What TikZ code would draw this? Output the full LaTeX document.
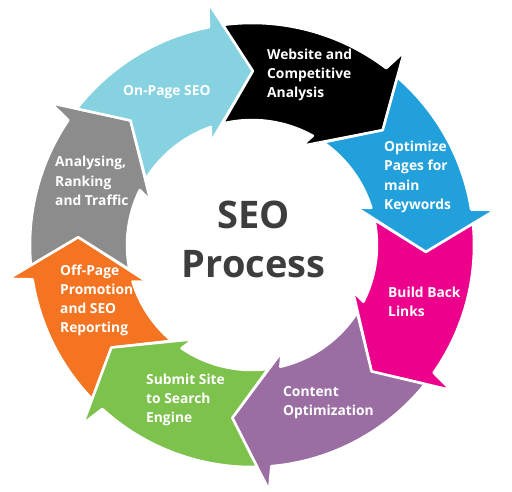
\documentclass[tikz,border=0pt]{standalone}
\usepackage{fontspec}
\setmainfont{Open Sans}
\definecolor{cOrange}{RGB}{244,116,33}
\definecolor{cGray}{RGB}{140,140,140}
\definecolor{cLight}{RGB}{134,210,225}
\definecolor{cBlack}{RGB}{0,0,0}
\definecolor{cBlue}{RGB}{34,160,219}
\definecolor{cPink}{RGB}{236,0,140}
\definecolor{cPurple}{RGB}{155,110,163}
\definecolor{cGreen}{RGB}{125,194,76}
\definecolor{cTitle}{RGB}{61,61,61}
\newcommand{\ringseg}[3]{%
  \filldraw[seg,fill=#3]
    ({#1+7.8}:222pt) arc[start angle={#1+7.8}, end angle={#2+11.5}, radius=222pt]
    -- ({#2+10.5}:246pt) -- (#2:174pt) -- ({#2+22}:111pt)
    -- ({#2+19.6}:125pt) arc[start angle={#2+19.6}, end angle={#1+13.9}, radius=125pt]
    -- (#1:174pt) -- cycle;}
\begin{document}
\begin{tikzpicture}[x=1pt,y=1pt,
  lbl/.style={anchor=west, inner sep=0pt, align=left, text=white,
    font=\bfseries\fontsize{13.8}{19.2}\selectfont},
  seg/.style={draw=white, line width=2.5pt, line join=round},
  title/.style={anchor=base, inner sep=0pt, text=cTitle,
    font=\bfseries\fontsize{38}{46}\selectfont}]
\useasboundingbox (0,0) rectangle (512,-491);
\fill[white] (0,0) rectangle (512,-491);
\begin{scope}[shift={(252,-245)}]
  \ringseg{216.1}{177.4}{cOrange}
  \ringseg{177.4}{134.3}{cGray}
  \ringseg{134.3}{89.7}{cLight}
  \ringseg{89.7}{41.3}{cBlack}
  \ringseg{41.3}{-2.3}{cBlue}
  \ringseg{-2.3}{-46.6}{cPink}
  \ringseg{-46.6}{-96.5}{cPurple}
  \ringseg{-96.5}{-143.9}{cGreen}
\end{scope}
\node[lbl] (onpage) at (123,-92) {On-Page SEO};
\node[lbl] (website) at (267,-74.7) {Website and\\Competitive\\Analysis};
\node[lbl] (optimize) at (384,-177) {Optimize\\Pages for\\main\\Keywords};
\node[lbl] (build) at (388,-301.5) {Build Back\\Links};
\node[lbl] (content) at (283,-402.5) {Content\\Optimization};
\node[lbl] (submit) at (146,-400) {Submit Site\\to Search\\Engine};
\node[lbl] (offpage) at (60,-300.5) {Off-Page\\Promotion\\and SEO\\Reporting};
\node[lbl] (analysing) at (55,-181) {Analysing,\\Ranking\\and Traffic};
\node[title] (seo) at (253.5,-228) {SEO};
\node[title] (process) at (253.5,-277) {Process};
\end{tikzpicture}
\end{document}
